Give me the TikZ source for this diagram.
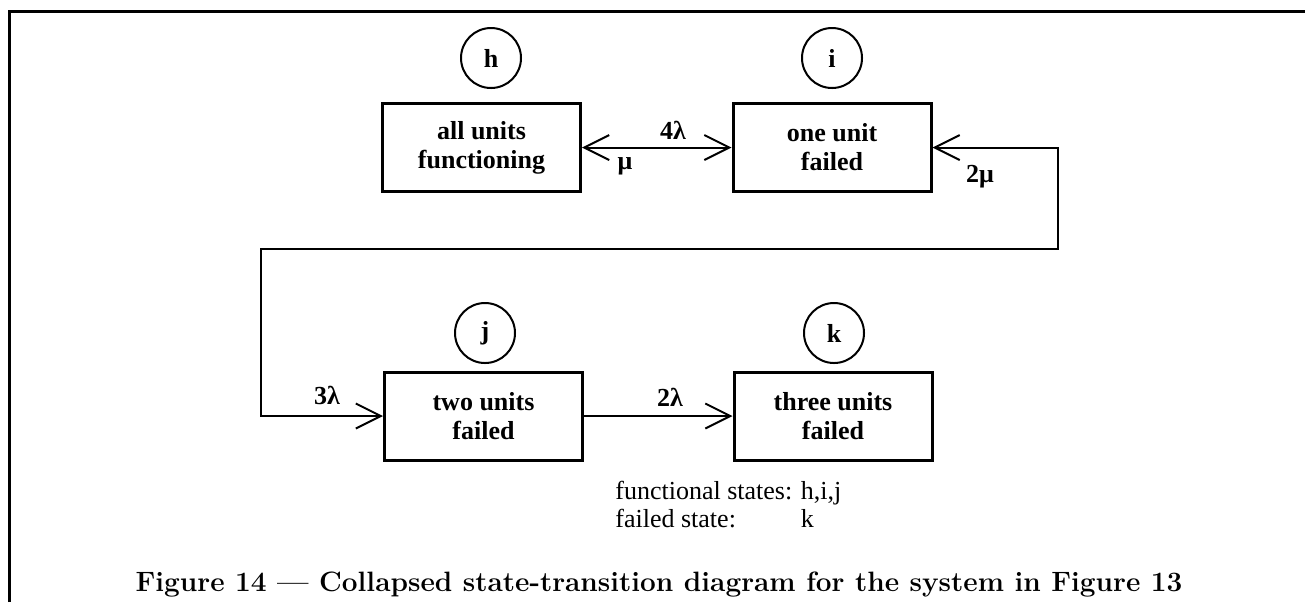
\documentclass[tikz,border=0pt]{standalone}
\usepackage{fontspec}
\newfontfamily\timesfont{Liberation Serif}
\usetikzlibrary{arrows.meta}

\newcommand*\boxfont{\timesfont\bfseries\fontsize{13}{14.5}\selectfont}
\tikzset{state/.style={
    draw,
    line width=1.5pt,
    rectangle,
    minimum width=99pt,
    minimum height=44pt,
    inner sep=0pt,
    align=center,
    font=\boxfont
}}
\tikzset{tag/.style={
    draw,
    line width=1pt,
    circle,
    minimum size=30pt,
    inner sep=0pt,
    font=\boxfont
}}
\tikzset{rate/.style={font=\boxfont}}
\tikzset{link/.style={line width=1pt}}

\begin{document}
\begin{tikzpicture}[x=0.5pt,y=-0.5pt,>={Straight Barb[length=12.5pt,width=12.5pt,line width=1pt]}]

    \useasboundingbox (0,0) rectangle (1305,602);

    % Frame along the top and the left.
    \draw[line width=1.5pt] (9,602) -- (9,11) -- (1305,11);

    % The four states with their letters.
    \node[state] (h) at (481.5,147.5) {all units\\functioning};
    \node[state] (i) at (832,147.5) {one unit\\failed};
    \node[state] (j) at (483.5,416) {two units\\failed};
    \node[state] (k) at (833,416) {three units\\failed};

    \node[tag] (th) at (491,58) {h};
    \node[tag] (ti) at (832,58) {i};
    \node[tag] (tj) at (485,333) {j};
    \node[tag] (tk) at (834,333) {k};

    % Transitions.
    \coordinate (r) at (1058,249);
    \coordinate (l) at (261,249);
    \draw[link,<->] (h.east) -- (i.west);
    \draw[link,<->] (i.east) -| (r) -- (l) |- (j.west);
    \draw[link,->] (j.east) -- (k.west);

    % Rates.
    \node[rate] (up) at (673,130) {4λ};
    \node[rate] (down) at (625,166) {μ};
    \node[rate] (rep) at (980,177) {2μ};
    \node[rate] (fail3) at (327,395) {3λ};
    \node[rate] (fail2) at (670,397) {2λ};

    % Legend.
    \node[anchor=north west,inner sep=0pt,font=\timesfont\fontsize{13}{14}\selectfont] (legend) at (615,479)
        {\begin{tabular}{@{}l@{ }l@{}}functional states: & h,i,j\\failed state: & k\end{tabular}};

    % Caption.
    \node[font=\bfseries\fontsize{14}{16}\selectfont] (caption) at (659,584)
        {Figure 14 --- Collapsed state-transition diagram for the system in Figure 13};

\end{tikzpicture}
\end{document}
